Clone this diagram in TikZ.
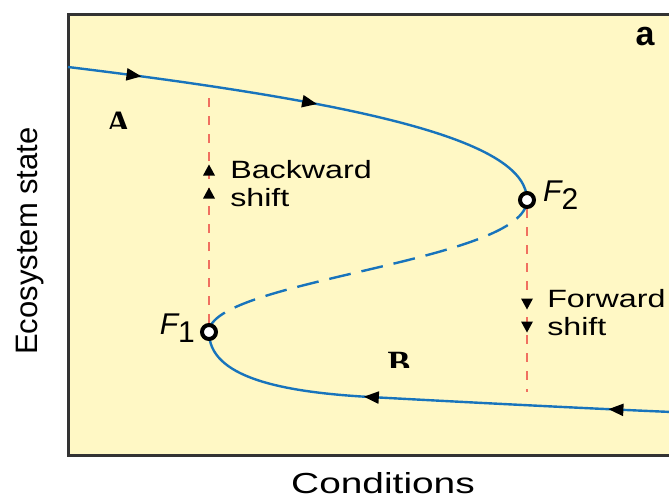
\documentclass[tikz,border=0pt]{standalone}
\usepackage{fontspec}
\setmainfont{Liberation Sans}
\newfontfamily\panelserif{Liberation Serif}
\usetikzlibrary{arrows.meta,decorations.markings,positioning}
\definecolor{paneyellow}{RGB}{255,248,197}
\definecolor{curveblue}{RGB}{24,116,188}
\definecolor{shiftred}{RGB}{240,112,96}
\tikzset{
  fold/.style={circle,draw=black,line width=4pt,fill=white,minimum size=14pt,inner sep=0pt},
  branch/.style={curveblue,line width=2.4pt},
  shiftline/.style={shiftred,line width=1.4pt,dash pattern=on 9pt off 9pt},
  flowtip/.tip={Triangle[length=15pt,width=12pt,color=black]},
  shiftlbl/.style={font=\fontsize{25}{28}\selectfont,align=left,xscale=1.29,inner sep=0pt,anchor=north west},
  foldlbl/.style={font=\fontsize{30}{30}\selectfont,inner sep=0pt},
  statelbl/.style={anchor=north,inner sep=0pt,font=\fontsize{34}{34}\panelserif\bfseries},
}
\begin{document}
\begin{tikzpicture}[x=1pt,y=-1pt]
  \useasboundingbox (0,0) rectangle (669,499);
  \clip (0,0) rectangle (669,499);
  \fill[white] (0,0) rectangle (669,499);
  \filldraw[fill=paneyellow,draw=black!80,line width=3pt] (68,14) rectangle (690,455);
  \coordinate (F1) at (209,332);
  \coordinate (F2) at (527,200);
  \coordinate (btop) at (209,97);
  \coordinate (fbot) at (527,392);
  % stable and unstable branches
  \draw[branch,postaction={decorate},decoration={markings,
      mark=at position 0.15 with {\arrow{flowtip}},
      mark=at position 0.51 with {\arrow{flowtip}}}]
    (68,67) .. controls (380,105) and (527,143) .. (F2);
  \draw[branch,dash pattern=on 22pt off 11pt] (F2) .. controls (527,262) and (209,280) .. (F1);
  \draw[branch,postaction={decorate},decoration={markings,
      mark=at position 0.37 with {\arrowreversed{flowtip}},
      mark=at position 0.87 with {\arrowreversed{flowtip}}}]
    (F1) .. controls (209,377) and (280,392) .. (370,397) .. controls (480,403) and (600,409) .. (672,412);
  \node[fold] (f1) at (F1) {};
  \node[fold] (f2) at (F2) {};
  \node[foldlbl,left=5pt of f1,yshift=4pt] (f1lbl) {{\itshape F}\raisebox{-8pt}{1}};
  \node[foldlbl,right=7pt of f2,yshift=5pt] (f2lbl) {{\itshape F}\raisebox{-8pt}{2}};
  % shifts
  \draw[shiftline] (f1.north) -- (btop);
  \draw[shiftline] (f2.south) -- (fbot);
  \foreach \y in {170,193} \fill (209,\y) ++(0,-5.5) -- ++(6,11) -- ++(-12,0) -- cycle;
  \foreach \y in {304,327} \fill (527,\y) ++(0,5.5) -- ++(6,-11) -- ++(-12,0) -- cycle;
  \node[shiftlbl] (bwd) at (230,160) {Backward\\shift};
  \node[shiftlbl] (fwd) at (547,289) {Forward\\shift};
  % labels
  \begin{scope}
    \clip (95,100) rectangle (145,128);
    \node[statelbl] (stA) at (118.5,112) {A};
  \end{scope}
  \begin{scope}
    \clip (375,340) rectangle (425,367);
    \node[statelbl] (stB) at (399,352) {B};
  \end{scope}
  \node[anchor=base,inner sep=0pt,font=\fontsize{34}{34}\selectfont\bfseries] (panel) at (645,45.7) {a};
  \node[rotate=90,font=\fontsize{31}{31}\selectfont] (ylbl) at (30,241) {Ecosystem state};
  \node[anchor=base,xscale=1.34,font=\fontsize{29}{29}\selectfont] (xlbl) at (383,493) {Conditions};
\end{tikzpicture}
\end{document}
